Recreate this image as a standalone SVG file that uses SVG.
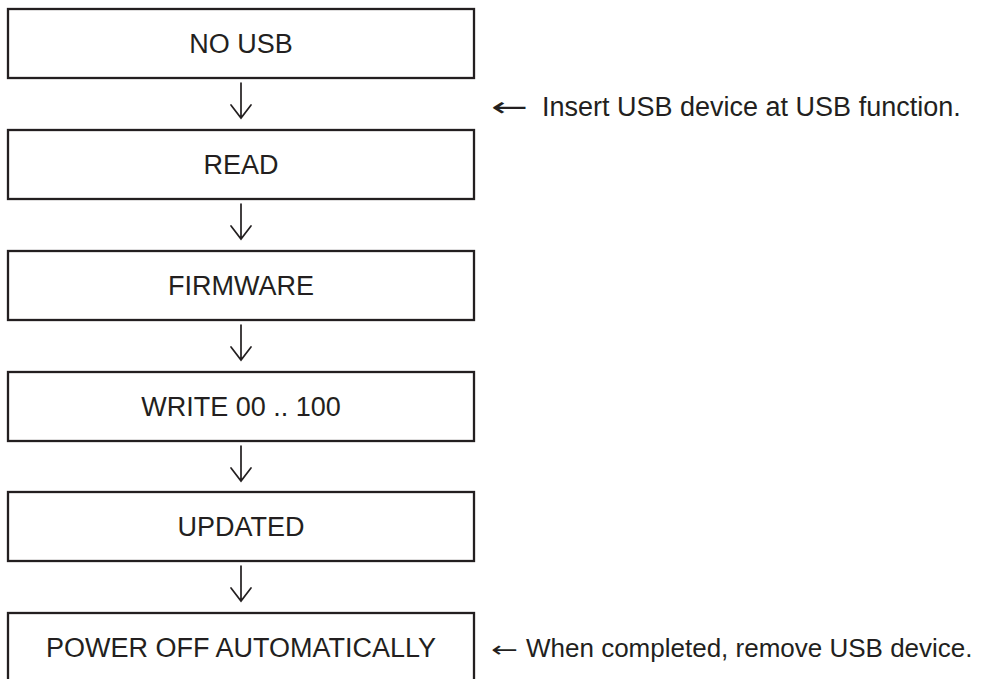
<svg xmlns="http://www.w3.org/2000/svg" width="987" height="679" viewBox="0 0 987 679">
  <style>
    .box { fill: #ffffff; stroke: #231f20; stroke-width: 2.3; }
    .label { font-family: "Liberation Sans", Arial, Helvetica, sans-serif; font-size: 27px; fill: #231f20; text-anchor: middle; }
    .note { font-family: "Liberation Sans", Arial, Helvetica, sans-serif; fill: #231f20; }
    .arrowglyph { font-family: "DejaVu Sans", "Liberation Sans", sans-serif; fill: #231f20; }
    .flow { fill: none; stroke: #231f20; stroke-width: 1.7; stroke-linecap: round; stroke-linejoin: miter; }
  </style>
  <rect width="987" height="679" fill="#ffffff"/>

  <!-- process steps -->
  <g id="node-no-usb">
    <rect class="box" x="8" y="9" width="466" height="69"/>
    <text class="label" x="241" y="53">NO USB</text>
  </g>
  <g id="node-read">
    <rect class="box" x="8" y="130" width="466" height="69"/>
    <text class="label" x="241" y="174">READ</text>
  </g>
  <g id="node-firmware">
    <rect class="box" x="8" y="251" width="466" height="69"/>
    <text class="label" x="241" y="295">FIRMWARE</text>
  </g>
  <g id="node-write">
    <rect class="box" x="8" y="372" width="466" height="69"/>
    <text class="label" x="241" y="416">WRITE 00 .. 100</text>
  </g>
  <g id="node-updated">
    <rect class="box" x="8" y="492" width="466" height="69"/>
    <text class="label" x="241" y="536">UPDATED</text>
  </g>
  <g id="node-power-off">
    <rect class="box" x="8" y="613" width="466" height="80"/>
    <text class="label" x="241" y="657">POWER OFF AUTOMATICALLY</text>
  </g>

  <!-- downward arrows between steps -->
  <g id="connectors">
    <path class="flow" d="M241 83 V118 M231 105 L241 118 L251 105"/>
    <path class="flow" d="M241 204 V239 M231 226 L241 239 L251 226"/>
    <path class="flow" d="M241 325 V360 M231 347 L241 360 L251 347"/>
    <path class="flow" d="M241 446 V481 M231 468 L241 481 L251 468"/>
    <path class="flow" d="M241 566 V601 M231 588 L241 601 L251 588"/>
  </g>

  <!-- side notes -->
  <g id="note-insert">
    <text class="arrowglyph" x="491" y="116" font-size="27" textLength="37" lengthAdjust="spacingAndGlyphs">←</text>
    <text class="note" x="542" y="116" font-size="27">Insert USB device at USB function.</text>
  </g>
  <g id="note-remove">
    <text class="arrowglyph" x="491" y="657" font-size="22" textLength="27" lengthAdjust="spacingAndGlyphs">←</text>
    <text class="note" x="526" y="657" font-size="26">When completed, remove USB device.</text>
  </g>
</svg>
